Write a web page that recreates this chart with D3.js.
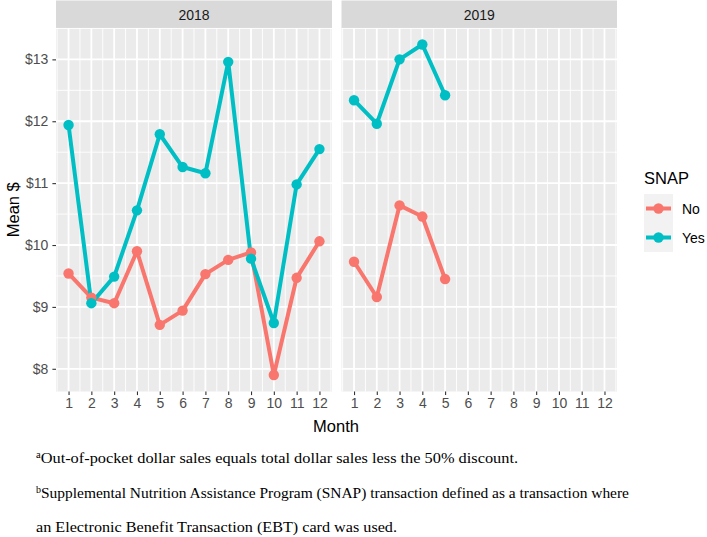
<!DOCTYPE html>
<html>
<head>
<meta charset="utf-8">
<script src="https://cdn.jsdelivr.net/npm/d3@7"></script>
<style>
  html, body { margin: 0; padding: 0; background: #ffffff; }
  svg { display: block; }
  text { font-family: "Liberation Sans", Arial, sans-serif; }
  .foot { font-family: "Liberation Serif", "Times New Roman", serif; }
</style>
</head>
<body>
<script>
// ---------- data ----------
const years = ["2018", "2019"];
const months = [1, 2, 3, 4, 5, 6, 7, 8, 9, 10, 11, 12];
const snapGroups = ["No", "Yes"];
const no2018 = [9.54, 9.15, 9.06, 9.90, 8.71, 8.94, 9.53, 9.76, 9.88, 7.90, 9.47, 10.06];
const yes2018 = [11.94, 9.06, 9.49, 10.56, 11.79, 11.26, 11.16, 12.96, 9.78, 8.74, 10.98, 11.55];
const no2019 = [9.73, 9.16, 10.64, 10.46, 9.45];
const yes2019 = [12.34, 11.96, 13.00, 13.24, 12.42];
const yTickValues = [8, 9, 10, 11, 12, 13];
const yTickLabels = ["$8", "$9", "$10", "$11", "$12", "$13"];
const xTickLabels = ["1", "2", "3", "4", "5", "6", "7", "8", "9", "10", "11", "12"];
const footnotes = [
  {sup: "a", text: "Out-of-pocket dollar sales equals total dollar sales less the 50% discount."},
  {sup: "b", text: "Supplemental Nutrition Assistance Program (SNAP) transaction defined as a transaction where"},
  {sup: "", text: "an Electronic Benefit Transaction (EBT) card was used."}
];

const seriesByYear = {
  "2018": {No: no2018, Yes: yes2018},
  "2019": {No: no2019, Yes: yes2019}
};
const colors = d3.scaleOrdinal().domain(snapGroups).range(["#F8766D", "#00BFC4"]);

// ---------- layout ----------
const W = 707, H = 537;
const panelTop = 28, panelBottom = 391.5, stripTop = 0.5;
const panels = [{year: "2018", x0: 56, x1: 332}, {year: "2019", x0: 341.5, x1: 617}];

const svg = d3.select("body").append("svg").attr("width", W).attr("height", H);

// y scale with ggplot-like 5% expansion
const allVals = [].concat(no2018, yes2018, no2019, yes2019);
const ymin = d3.min(allVals), ymax = d3.max(allVals);
const yexp = (ymax - ymin) * 0.05;
const y = d3.scaleLinear().domain([ymin - yexp, ymax + yexp]).range([panelBottom, panelTop]);
const xexp = (12 - 1) * 0.05;

const yMinor = [7.5, 8.5, 9.5, 10.5, 11.5, 12.5, 13.5].filter(v => v >= y.domain()[0] && v <= y.domain()[1]);
const xMinor = d3.range(0.5, 13, 1);

panels.forEach(p => {
  const x = d3.scaleLinear().domain([1 - xexp, 12 + xexp]).range([p.x0, p.x1]);
  const g = svg.append("g");
  // strip
  g.append("rect").attr("x", p.x0).attr("y", stripTop).attr("width", p.x1 - p.x0)
    .attr("height", panelTop - stripTop).attr("fill", "#D9D9D9");
  g.append("text").attr("x", (p.x0 + p.x1) / 2).attr("y", 19.5).attr("text-anchor", "middle")
    .attr("font-size", 14).attr("fill", "#1A1A1A").text(p.year);
  // panel bg
  g.append("rect").attr("x", p.x0).attr("y", panelTop).attr("width", p.x1 - p.x0)
    .attr("height", panelBottom - panelTop).attr("fill", "#EBEBEB");
  // minor grid
  g.selectAll(".ymin").data(yMinor).enter().append("line")
    .attr("x1", p.x0).attr("x2", p.x1).attr("y1", d => y(d)).attr("y2", d => y(d))
    .attr("stroke", "#fff").attr("stroke-width", 0.9);
  g.selectAll(".xmin").data(xMinor.filter(v => v >= x.domain()[0] && v <= x.domain()[1])).enter().append("line")
    .attr("y1", panelTop).attr("y2", panelBottom).attr("x1", d => x(d)).attr("x2", d => x(d))
    .attr("stroke", "#fff").attr("stroke-width", 0.9);
  // major grid
  g.selectAll(".ymaj").data(yTickValues).enter().append("line")
    .attr("x1", p.x0).attr("x2", p.x1).attr("y1", d => y(d)).attr("y2", d => y(d))
    .attr("stroke", "#fff").attr("stroke-width", 1.8);
  g.selectAll(".xmaj").data(months).enter().append("line")
    .attr("y1", panelTop).attr("y2", panelBottom).attr("x1", d => x(d)).attr("x2", d => x(d))
    .attr("stroke", "#fff").attr("stroke-width", 1.8);

  // x axis
  const xAxis = d3.axisBottom(x).tickValues(months).tickFormat((d, i) => xTickLabels[i])
    .tickSize(3.6).tickPadding(2.5);
  const xa = svg.append("g").attr("transform", `translate(0,${panelBottom})`).call(xAxis);
  xa.select(".domain").remove();
  xa.selectAll(".tick line").attr("stroke", "#333333").attr("stroke-width", 1.1);
  xa.selectAll(".tick text").attr("font-size", 14).attr("fill", "#4D4D4D")
    .attr("font-family", "Liberation Sans, Arial, sans-serif");

  // lines + points
  const line = d3.line().x((d, i) => x(months[i])).y(d => y(d));
  snapGroups.forEach(s => {
    const vals = seriesByYear[p.year][s];
    svg.append("path").datum(vals).attr("d", line).attr("fill", "none")
      .attr("stroke", colors(s)).attr("stroke-width", 4).attr("stroke-linejoin", "round");
  });
  snapGroups.forEach(s => {
    const vals = seriesByYear[p.year][s];
    svg.selectAll(null).data(vals).enter().append("circle")
      .attr("cx", (d, i) => x(months[i])).attr("cy", d => y(d)).attr("r", 5.2)
      .attr("fill", colors(s));
  });
});

// y axis
const yAxis = d3.axisLeft(y).tickValues(yTickValues).tickFormat((d, i) => yTickLabels[i])
  .tickSize(3.6).tickPadding(4);
const ya = svg.append("g").attr("transform", `translate(${panels[0].x0},0)`).call(yAxis);
ya.select(".domain").remove();
ya.selectAll(".tick line").attr("stroke", "#333333").attr("stroke-width", 1.1);
ya.selectAll(".tick text").attr("font-size", 14).attr("fill", "#4D4D4D")
  .attr("font-family", "Liberation Sans, Arial, sans-serif");

// axis titles
svg.append("text").attr("x", 336).attr("y", 431.5).attr("text-anchor", "middle")
  .attr("font-size", 16.5).attr("fill", "#000").text("Month");
svg.append("text").attr("transform", `translate(18.5,${(panelTop + panelBottom) / 2}) rotate(-90)`)
  .attr("text-anchor", "middle").attr("font-size", 16.5).attr("fill", "#000").text("Mean $");

// legend
const lg = svg.append("g");
lg.append("text").attr("x", 644).attr("y", 184).attr("font-size", 16.5).attr("fill", "#000").text("SNAP");
const keySize = 29;
snapGroups.forEach((s, i) => {
  const ky = 194 + i * keySize;
  lg.append("rect").attr("x", 644).attr("y", ky).attr("width", keySize).attr("height", keySize).attr("fill", "#F2F2F2");
  lg.append("line").attr("x1", 646).attr("x2", 671).attr("y1", ky + keySize / 2).attr("y2", ky + keySize / 2)
    .attr("stroke", colors(s)).attr("stroke-width", 4);
  lg.append("circle").attr("cx", 644 + keySize / 2).attr("cy", ky + keySize / 2).attr("r", 5.2).attr("fill", colors(s));
  lg.append("text").attr("x", 682).attr("y", ky + keySize / 2 + 5).attr("font-size", 14).attr("fill", "#000").text(s);
});

// footnotes
const footY = [463, 498, 532];
const footWidths = [482, 593, 361];
footnotes.forEach((f, i) => {
  const t = svg.append("text").attr("class", "foot").attr("x", 36).attr("y", footY[i])
    .attr("font-size", 15.5).attr("fill", "#000")
    .attr("textLength", footWidths[i]).attr("lengthAdjust", "spacingAndGlyphs");
  if (f.sup) {
    t.append("tspan").attr("font-size", 10).attr("dy", -5.5).text(f.sup);
    t.append("tspan").attr("dy", 5.5).text(f.text);
  } else {
    t.append("tspan").text(f.text);
  }
});
</script>
</body>
</html>
